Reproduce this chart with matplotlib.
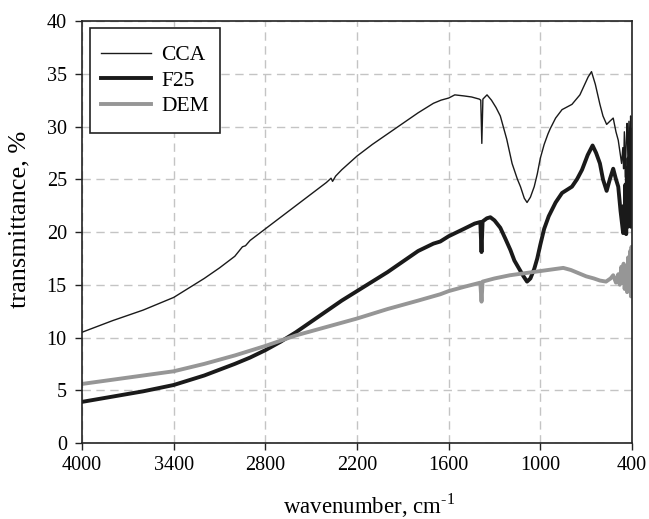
import matplotlib.pyplot as plt
from matplotlib.patches import Rectangle

# FTIR spectra (wavenumber in cm-1, transmittance in %)
cca_wn = [4000, 3800, 3600, 3400, 3300, 3200, 3100, 3000, 2950, 2930, 2900, 2800, 2700, 2600,
          2500, 2400, 2370, 2360, 2340, 2300, 2200, 2100, 2000, 1900, 1800, 1700, 1650, 1600,
          1560, 1500, 1450, 1400, 1390, 1383, 1376, 1349, 1320, 1290, 1262, 1220, 1185, 1150,
          1130, 1105, 1087, 1065, 1040, 1020, 1000, 975, 950, 935, 900, 858, 793, 741, 687, 665,
          640, 610, 590, 566, 545, 523, 505, 490, 468, 460, 455, 450, 444, 438, 432, 426, 420,
          414, 409, 404, 400]
cca_t = [10.5, 11.6, 12.6, 13.8, 14.7, 15.6, 16.6, 17.7, 18.6, 18.7, 19.2, 20.3, 21.4, 22.5,
         23.6, 24.7, 25.1, 24.8, 25.3, 25.9, 27.2, 28.3, 29.3, 30.3, 31.3, 32.2, 32.5, 32.7,
         33.0, 32.9, 32.8, 32.6, 32.5, 28.4, 32.6, 33.0, 32.5, 31.8, 31.0, 28.8, 26.5, 25.0,
         24.3, 23.2, 22.8, 23.3, 24.3, 25.5, 27.0, 28.3, 29.3, 29.8, 30.8, 31.6, 32.1, 33.0, 34.7, 35.2,
         34.0, 32.1, 31.0, 30.2, 30.5, 30.8, 29.5, 28.7, 26.5, 28.0, 26.0, 29.5, 25.2, 28.5, 30.3, 26.5, 30.5,
         25.5, 31.0, 27.0, 29.8]

f25_wn = [4000, 3800, 3600, 3400, 3200, 3000, 2900, 2800, 2700, 2600, 2500, 2400, 2300, 2200,
          2100, 2000, 1900, 1800, 1700, 1655, 1600, 1500, 1430, 1393, 1385, 1378, 1350, 1327,
          1300, 1262, 1230, 1196, 1170, 1142, 1110, 1087, 1065, 1040, 1020, 1000, 975, 945, 900,
          858, 793, 760, 727, 690, 658, 635, 610, 590, 566, 545, 523, 505, 490, 475, 458, 453,
          448, 443, 438, 433, 428, 423, 418, 413, 408, 404, 400]
f25_t = [3.9, 4.4, 4.9, 5.5, 6.4, 7.5, 8.1, 8.8, 9.6, 10.5, 11.5, 12.5, 13.5, 14.4,
         15.3, 16.2, 17.2, 18.2, 18.9, 19.1, 19.6, 20.3, 20.8, 20.95, 18.1, 21.0, 21.3, 21.4,
         21.1, 20.4, 19.4, 18.3, 17.3, 16.6, 15.8, 15.3, 15.6, 16.5, 17.5, 18.8, 20.3, 21.5, 22.8,
         23.7, 24.3, 25.0, 25.9, 27.3, 28.2, 27.5, 26.5, 25.0, 23.9, 25.0, 26.0, 25.0, 24.3, 22.0, 19.9, 22.5,
         20.0, 24.5, 19.8, 26.0, 20.5, 27.0, 21.0, 28.0, 20.5, 29.5, 22.0]

dem_wn = [4000, 3800, 3600, 3400, 3200, 3000, 2800, 2700, 2600, 2400, 2200, 2000, 1800, 1655,
          1600, 1500, 1393, 1385, 1378, 1300, 1200, 1100, 1000, 900, 850, 800, 750, 700, 650,
          610, 570, 540, 523, 505, 490, 480, 470, 462, 455, 448, 440, 432, 425, 418, 412, 407, 403, 400]
dem_t = [5.6, 6.0, 6.4, 6.8, 7.5, 8.3, 9.2, 9.7, 10.2, 11.0, 11.8, 12.7, 13.5, 14.1,
         14.4, 14.8, 15.2, 13.4, 15.3, 15.6, 15.9, 16.1, 16.3, 16.5, 16.6, 16.4, 16.1, 15.8, 15.6,
         15.4, 15.3, 15.6, 15.9, 15.2, 16.0, 15.0, 16.7, 15.2, 17.0, 14.6, 16.8, 14.3, 17.6, 14.8, 18.2, 13.9, 18.6, 14.5]

x_ticks = [4000, 3400, 2800, 2200, 1600, 1000, 400]

plt.rcParams['font.family'] = ['Liberation Serif', 'DejaVu Serif']
plt.rcParams['mathtext.fontset'] = 'custom'
plt.rcParams['mathtext.rm'] = 'Liberation Serif'

fig = plt.figure(figsize=(6.49, 5.19), dpi=100)
ax = fig.add_axes([0.1264, 0.1464, 0.8474, 0.8131])

ax.plot(cca_wn, cca_t, color='#1a1a1a', lw=1.0, label='CCA')
ax.plot(f25_wn, f25_t, color='#1a1a1a', lw=2.8, label='F25')
ax.plot(dem_wn, dem_t, color='#969696', lw=2.8, label='DEM')

ax.set_xlim(4000, 400)
ax.set_ylim(0, 40)
ax.set_xticks(x_ticks)
ax.set_yticks(range(0, 41, 5))
ax.grid(True, color='#c4c4c4', linestyle=(0, (6, 4)), lw=1.0)
ax.set_axisbelow(True)
ax.tick_params(direction='out', length=5, width=1, labelsize=14.5, color='#222222')
ax.tick_params(axis='y', pad=6)
ax.tick_params(axis='x', pad=4)
for s in ax.spines.values():
    s.set_color('#222222')
    s.set_linewidth(1.2)

ax.set_xlabel('wavenumber, cm$^{\\text{-1}}$', fontsize=16.5)
ax.xaxis.set_label_coords(0.522, -0.114)
ax.set_ylabel('transmittance, %', fontsize=19)
ax.yaxis.set_label_coords(-0.093, 0.53)

# legend without its own frame; the box is drawn around it with extra room above and below
leg = ax.legend(loc='upper left', fontsize=15.5, frameon=False,
                handlelength=2.3, handletextpad=0.5, borderpad=0.5,
                labelspacing=0.26, bbox_to_anchor=(0.0152, 0.9685), borderaxespad=0.0)
fig.canvas.draw()
bb = leg.get_window_extent()
extra = 6
inv = ax.transAxes.inverted()
(x0, y0) = inv.transform((bb.x0, bb.y0 - extra))
(x1, y1) = inv.transform((bb.x1, bb.y1 + extra))
ax.add_patch(Rectangle((x0, y0), x1 - x0, y1 - y0, transform=ax.transAxes,
                       facecolor='white', edgecolor='#222222', lw=1.2, zorder=4.9))

fig.savefig('out.png', dpi=100)
